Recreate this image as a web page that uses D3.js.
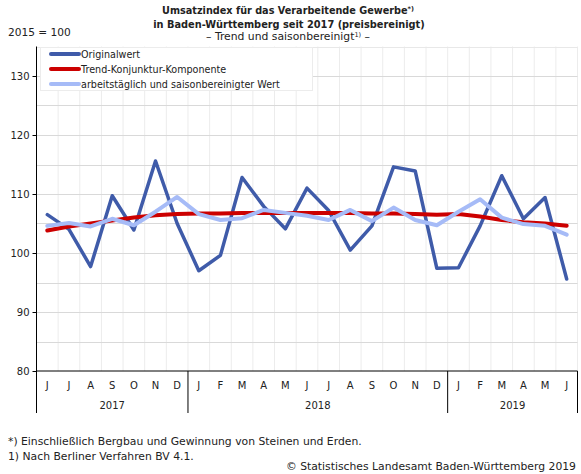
<!DOCTYPE html>
<html><head><meta charset="utf-8">
<script src="https://cdn.jsdelivr.net/npm/d3@7"></script>
<style>
html,body{margin:0;padding:0;background:#fff;}
svg{display:block;font-family:"DejaVu Sans",Verdana,sans-serif;}
</style></head>
<body>
<svg id="chart" width="581" height="474"></svg>
<script>
const months = ["J","J","A","S","O","N","D","J","F","M","A","M","J","J","A","S","O","N","D","J","F","M","A","M","J"];
const years = ["2017","2018","2019"];
const yearMonths = [7,12,6];
const originalwert = [106.5,104.0,97.7,109.7,103.9,115.6,105.0,97.0,99.6,112.8,107.9,104.1,111.0,107.2,100.5,104.6,114.6,113.9,97.4,97.5,104.6,113.1,105.8,109.4,95.6];
const trend = [103.8,104.5,105.0,105.5,106.0,106.4,106.6,106.7,106.7,106.8,106.8,106.8,106.8,106.8,106.8,106.7,106.7,106.6,106.5,106.6,106.2,105.6,105.2,105.0,104.6];
const saison = [104.6,105.1,104.5,105.8,104.7,107.0,109.5,106.6,105.6,105.9,107.3,106.8,106.3,105.6,107.3,105.4,107.7,105.6,104.7,107.0,109.1,106.0,104.9,104.6,103.1];
const yTicks = [80,90,100,110,120,130];
const seriesNames = ["Originalwert","Trend-Konjunktur-Komponente","arbeitstäglich und saisonbereinigter Wert"];
const seriesColors = ["#3f5ba9","#cc0000","#a6bbf7"];

const svg = d3.select("#chart");
const L = 36.5, R = 577.5, T = 46.5, B = 371;
const idx = d3.range(months.length);
const x = d3.scaleBand().domain(idx).range([L, R]).padding(0);
const y = d3.scaleLinear().domain([80,135]).range([B, T]);

// vertical grid
const g = svg.append("g");
g.selectAll("line.v").data(idx.slice(1)).enter().append("line")
  .attr("x1", d => x(d)).attr("x2", d => x(d)).attr("y1", T).attr("y2", B)
  .attr("stroke", "#ececec").attr("stroke-width", 1);
g.append("line").attr("x1", R).attr("x2", R).attr("y1", T).attr("y2", B).attr("stroke", "#ececec");
// horizontal grid
g.selectAll("line.h").data(d3.range(85,136,5)).enter().append("line")
  .attr("x1", L).attr("x2", R).attr("y1", d => Math.round(y(d))+0.5).attr("y2", d => Math.round(y(d))+0.5)
  .attr("stroke", d => d === 135 ? "#e8e8e8" : "#d9d9d9").attr("stroke-width", 1);

// y axis
const yAxis = d3.axisLeft(y).tickValues(yTicks).tickSize(4).tickSizeOuter(0);
const ya = svg.append("g").attr("transform", `translate(${L},0)`).call(yAxis);
ya.select(".domain").remove();
ya.selectAll(".tick line").attr("stroke", "#000");
ya.selectAll(".tick text").attr("font-family", "DejaVu Sans").attr("font-size", 10).attr("fill", "#222").attr("x", -7);
svg.append("line").attr("x1", L).attr("x2", L).attr("y1", T).attr("y2", 413).attr("stroke", "#000");

// x axis line
svg.append("line").attr("x1", L).attr("x2", R).attr("y1", B).attr("y2", B).attr("stroke", "#000");
// month labels
svg.selectAll("text.m").data(idx).enter().append("text")
  .attr("x", d => x(d) + x.bandwidth()/2).attr("y", 389)
  .attr("text-anchor", "middle").attr("font-size", 10).attr("fill", "#222")
  .text(d => months[d]);
// year separators & labels
let start = 0;
const yearData = years.map((yr, i) => { const o = {yr, s: start, e: start + yearMonths[i]}; start += yearMonths[i]; return o; });
const xEdge = i => i >= months.length ? R : x(i);
svg.selectAll("line.ys").data(yearData).enter().append("line")
  .attr("x1", d => xEdge(d.e)).attr("x2", d => xEdge(d.e)).attr("y1", B).attr("y2", 413)
  .attr("stroke", "#000");
svg.selectAll("text.yr").data(yearData).enter().append("text")
  .attr("x", d => (xEdge(d.s) + xEdge(d.e))/2).attr("y", 409)
  .attr("text-anchor", "middle").attr("font-size", 10).attr("fill", "#222")
  .text(d => d.yr);

// lines
const line = d3.line().x((d,i) => x(i) + x.bandwidth()/2).y(d => y(d)).curve(d3.curveLinear);
const allSeries = [originalwert, trend, saison];
const widths = [3.5, 4, 4];
allSeries.forEach((s, k) => {
  svg.append("path").datum(s).attr("d", line).attr("fill", "none")
    .attr("stroke", seriesColors[k]).attr("stroke-width", widths[k])
    .attr("stroke-linejoin", "round").attr("stroke-linecap", "round");
});

// legend
const lg = svg.append("g");
lg.append("rect").attr("x", 40.5).attr("y", 47.5).attr("width", 272).attr("height", 43)
  .attr("fill", "#fff").attr("stroke", "#ececec");
seriesNames.forEach((n, k) => {
  const yy = 54 + k*15;
  lg.append("line").attr("x1", 51).attr("x2", 79).attr("y1", yy).attr("y2", yy)
    .attr("stroke", seriesColors[k]).attr("stroke-width", 4).attr("stroke-linecap", "round");
  lg.append("text").attr("x", 81).attr("y", yy + 3.6).attr("font-size", 9.6).attr("fill", "#222").text(n);
});

// titles
const tt = svg.append("g").attr("text-anchor", "middle");
const t1 = tt.append("text").attr("x", 288).attr("y", 14).attr("font-size", 9.7).attr("font-weight", "bold").attr("fill", "#222");
t1.append("tspan").text("Umsatzindex für das Verarbeitende Gewerbe");
t1.append("tspan").attr("font-size", 6.5).attr("dy", -3).text("*)");
tt.append("text").attr("x", 289).attr("y", 28).attr("font-size", 9.8).attr("font-weight", "bold").attr("fill", "#222")
  .text("in Baden-Württemberg seit 2017 (preisbereinigt)");
const t3 = tt.append("text").attr("x", 288).attr("y", 40).attr("font-size", 10.8).attr("fill", "#222");
t3.append("tspan").text("– Trend und saisonbereinigt");
t3.append("tspan").attr("font-size", 6.5).attr("dy", -3).text("1)");
t3.append("tspan").attr("dy", 3).text(" –");
svg.append("text").attr("x", 8).attr("y", 36).attr("font-size", 10.6).attr("fill", "#222").text("2015 = 100");

// footnotes
svg.append("text").attr("x", 8).attr("y", 445).attr("font-size", 10.8).attr("fill", "#222")
  .text("*) Einschließlich Bergbau und Gewinnung von Steinen und Erden.");
svg.append("text").attr("x", 8).attr("y", 460).attr("font-size", 10.8).attr("fill", "#222")
  .text("1) Nach Berliner Verfahren BV 4.1.");
svg.append("text").attr("x", 576).attr("y", 470).attr("text-anchor", "end").attr("font-size", 10.8).attr("fill", "#222")
  .text("© Statistisches Landesamt Baden-Württemberg 2019");
</script>
</body></html>
